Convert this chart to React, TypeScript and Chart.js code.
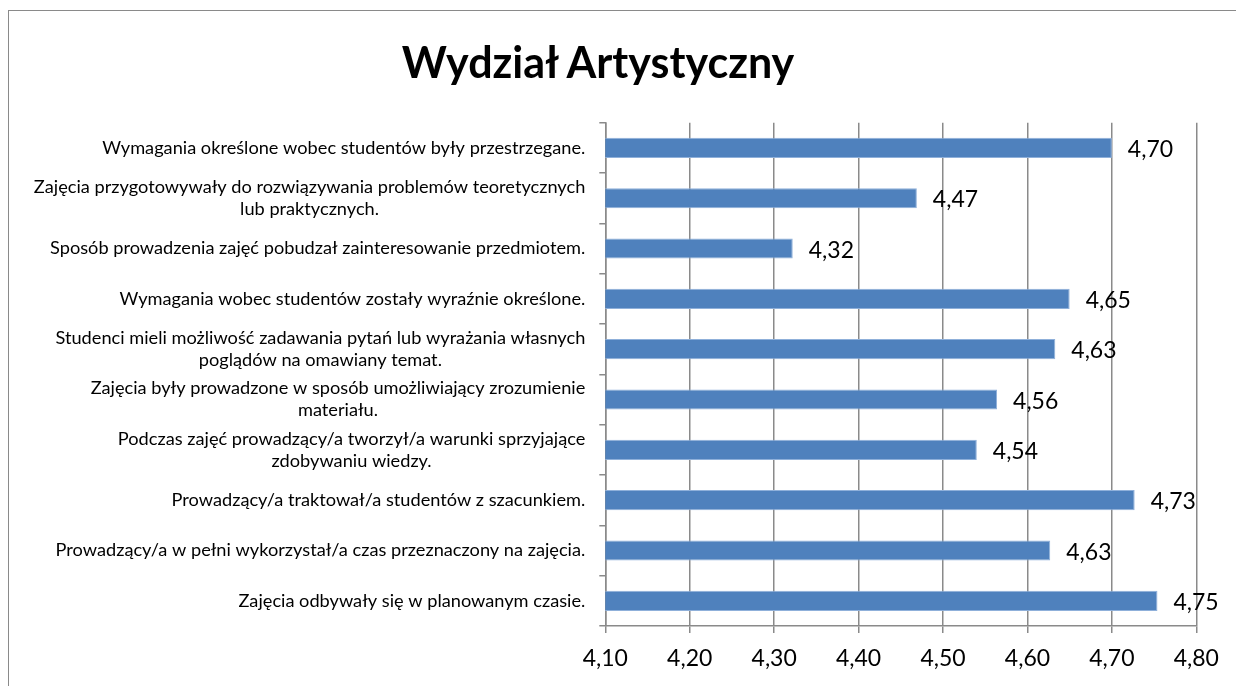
import React, { useEffect, useRef } from 'react';
import { Chart, registerables } from 'chart.js';

Chart.register(...registerables);

const chartTitle = 'Wydział Artystyczny';

const categories: string[][] = [
  ['Wymagania określone wobec studentów były przestrzegane.'],
  ['Zajęcia przygotowywały do rozwiązywania problemów teoretycznych', 'lub praktycznych.'],
  ['Sposób prowadzenia zajęć pobudzał zainteresowanie przedmiotem.'],
  ['Wymagania wobec studentów zostały wyraźnie określone.'],
  ['Studenci mieli możliwość zadawania pytań lub wyrażania własnych', 'poglądów na omawiany temat.'],
  ['Zajęcia były prowadzone w sposób umożliwiający zrozumienie', 'materiału.'],
  ['Podczas zajęć prowadzący/a tworzył/a warunki sprzyjające', 'zdobywaniu wiedzy.'],
  ['Prowadzący/a traktował/a studentów z szacunkiem.'],
  ['Prowadzący/a w pełni wykorzystał/a czas przeznaczony na zajęcia.'],
  ['Zajęcia odbywały się w planowanym czasie.'],
];

const values: number[] = [4.70, 4.469, 4.322, 4.650, 4.633, 4.564, 4.540, 4.727, 4.627, 4.754];

const xMin = 4.1;
const xMax = 4.8;
const xStep = 0.1;

const FONT = 'Lato';

const fmt = (v: number) => v.toFixed(2).replace('.', ',');

export default function App() {
  const ref = useRef<HTMLCanvasElement>(null);

  useEffect(() => {
    if (!ref.current) return;

    const yLabelPlugin = {
      id: 'yLabelsBlock',
      afterDraw(chart: any) {
        const ctx = chart.ctx;
        const ys = chart.scales.y;
        ctx.save();
        ctx.font = `18.2px ${FONT}`;
        ctx.fillStyle = '#000';
        ctx.textAlign = 'center';
        ctx.textBaseline = 'middle';
        const right = ys.right - 6 - 14;
        categories.forEach((lines, i) => {
          const yc = ys.getPixelForValue(i);
          const w = Math.max(...lines.map((l) => ctx.measureText(l).width));
          const cx = right - w / 2;
          lines.forEach((l, j) => {
            ctx.fillText(l, cx, yc + (j - (lines.length - 1) / 2) * 22);
          });
        });
        ctx.restore();
      },
    };

    const valueLabelPlugin = {
      id: 'valueLabels',
      afterDatasetsDraw(chart: any) {
        const ctx = chart.ctx;
        const meta = chart.getDatasetMeta(0);
        ctx.save();
        ctx.font = `23px ${FONT}`;
        ctx.fillStyle = '#000';
        ctx.textAlign = 'left';
        ctx.textBaseline = 'alphabetic';
        meta.data.forEach((el: any, i: number) => {
          ctx.fillText(fmt(values[i]), el.x + 16, el.y + 9);
        });
        ctx.restore();
      },
    };

    const chart = new Chart(ref.current, {
      type: 'bar',
      data: {
        labels: categories.map((c) => c.join(' ')),
        datasets: [
          {
            data: values,
            backgroundColor: '#4F81BD',
            borderColor: '#8fb0da',
            borderWidth: 1,
            borderSkipped: false,
            barPercentage: 0.8,
            categoryPercentage: 0.5,
          },
        ],
      },
      options: {
        indexAxis: 'y',
        animation: false,
        responsive: true,
        maintainAspectRatio: false,
        layout: { padding: { left: 0, top: 111.7, right: 39.7, bottom: 0 } },
        plugins: {
          legend: { display: false },
          title: { display: false },
          tooltip: { enabled: false },
        },
        scales: {
          x: {
            type: 'linear',
            position: 'bottom',
            min: xMin,
            max: xMax,
            ticks: {
              stepSize: xStep,
              color: '#000',
              font: { family: FONT, size: 23 },
              padding: 12,
              callback: (v: any) => fmt(Number(v)),
            },
            grid: {
              color: '#8a8a8a',
              lineWidth: 1.5,
              tickLength: 7,
              drawTicks: true,
            },
            border: { color: '#8a8a8a', width: 1.5 },
            afterFit: (s: any) => {
              s.height = 60;
            },
          },
          y: {
            type: 'category',
            position: 'left',
            ticks: { display: false },
            grid: {
              offset: true,
              drawOnChartArea: false,
              drawTicks: true,
              tickLength: 6,
              color: '#8a8a8a',
              lineWidth: 1.5,
            },
            border: { color: '#8a8a8a', width: 1.5 },
            afterFit: (s: any) => {
              s.width = 596.3;
            },
          },
        },
      },
      plugins: [yLabelPlugin, valueLabelPlugin],
    });

    return () => chart.destroy();
  }, []);

  return (
    <div
      style={{
        position: 'fixed',
        left: 0,
        top: 0,
        width: 1236,
        height: 686,
        overflow: 'hidden',
        background: '#fff',
      }}
    >
      <div
        style={{
          position: 'absolute',
          left: 8,
          top: 10,
          width: 1240,
          height: 690,
          borderLeft: '1px solid #8a8a8a',
          borderTop: '1px solid #8a8a8a',
        }}
      >
        <div style={{ position: 'absolute', left: 0, top: 0, width: 1227, height: 675 }}>
          <canvas ref={ref} />
        </div>
      </div>
      <div
        style={{
          position: 'absolute',
          left: 0,
          top: 40,
          width: 1196,
          textAlign: 'center',
          font: `bold 43px ${FONT}`,
          lineHeight: '1',
          color: '#000',
          whiteSpace: 'nowrap',
        }}
      >
        {chartTitle}
      </div>
    </div>
  );
}
